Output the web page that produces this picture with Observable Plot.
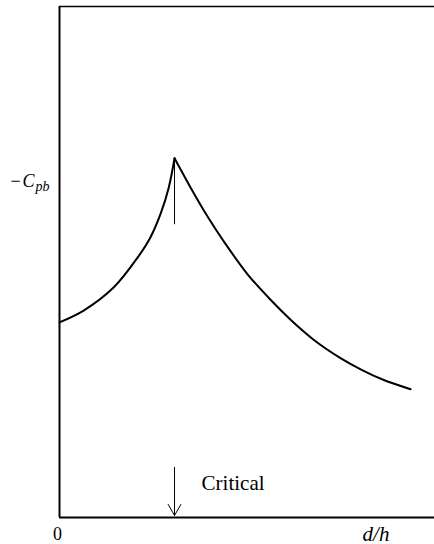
<!DOCTYPE html>
<html>
<head>
<meta charset="utf-8">
<script src="https://cdn.jsdelivr.net/npm/d3@7"></script>
<script src="https://cdn.jsdelivr.net/npm/@observablehq/plot@0.6"></script>
<style>
  html, body { margin: 0; padding: 0; background: #fff; }
  #chart svg { display: block; }
</style>
</head>
<body>
<div id="chart"></div>
<script>
// Base pressure coefficient -Cpb against d/h (arbitrary units; critical d/h = 1)
const riseX = [0, 0.21, 0.47, 0.68, 0.79, 0.88, 0.95, 1.0];
const riseY = [0.382, 0.405, 0.450, 0.509, 0.548, 0.595, 0.646, 0.703];
const fallX = [1.0, 1.139, 1.287, 1.426, 1.635, 1.835, 2.009, 2.209, 2.443, 2.635, 2.809, 3.052];
const fallY = [0.703, 0.646, 0.589, 0.541, 0.476, 0.426, 0.387, 0.348, 0.312, 0.288, 0.270, 0.251];
const criticalX = 1.0;

const rise = riseX.map((x, i) => ({x, y: riseY[i]}));
const fall = fallX.map((x, i) => ({x, y: fallY[i]}));

const serif = "Liberation Serif, Times New Roman, serif";

const chart = Plot.plot({
  width: 434,
  height: 544,
  marginLeft: 59,
  marginRight: 0,
  marginTop: 6,
  marginBottom: 27,
  style: {background: "#fff", fontFamily: serif, color: "#000"},
  x: {domain: [0, 3.26], axis: null},
  y: {domain: [0, 1], axis: null},
  marks: [
    // frame: left, bottom and top lines
    Plot.ruleX([0], {stroke: "#000", strokeWidth: 2}),
    Plot.ruleY([0], {stroke: "#000", strokeWidth: 2}),
    Plot.ruleY([1], {stroke: "#000", strokeWidth: 1.5}),
    // the curve, in two smooth branches meeting at the sharp peak
    Plot.line(rise, {x: "x", y: "y", curve: "catmull-rom", stroke: "#000", strokeWidth: 2}),
    Plot.line(fall, {x: "x", y: "y", curve: "catmull-rom", stroke: "#000", strokeWidth: 2}),
    // thin drop line under the peak
    Plot.ruleX([criticalX], {y1: 0.573, y2: riseY[riseY.length - 1], stroke: "#000", strokeWidth: 1}),
    // arrow marking the critical value
    Plot.arrow([criticalX], {x1: d => d, x2: d => d, y1: 0.098, y2: 0.004,
      stroke: "#000", strokeWidth: 1, headLength: 19, headAngle: 60}),
    Plot.text(["Critical"], {x: 1.235, y: 0.0665, text: d => d, textAnchor: "start",
      lineAnchor: "middle", fontSize: 21, fontFamily: serif, fill: "#000"}),
    // axis labels
    Plot.text(["0"], {x: 0, frameAnchor: "bottom", dx: -2, dy: 22, lineAnchor: "bottom",
      text: d => d, fontSize: 18, fontFamily: serif, fill: "#000"}),
    Plot.text(["d/h"], {x: 2.635, frameAnchor: "bottom", dy: 23, lineAnchor: "bottom",
      textAnchor: "start", text: d => d, fontSize: 21, fontStyle: "italic",
      fontFamily: serif, fill: "#000"}),
    Plot.text(["\u2212"], {frameAnchor: "left", dx: -49, y: 0.646, lineAnchor: "bottom",
      textAnchor: "start", text: d => d, fontSize: 18, fontFamily: serif, fill: "#000"}),
    Plot.text(["C"], {frameAnchor: "left", dx: -37, y: 0.646, lineAnchor: "bottom",
      textAnchor: "start", text: d => d, fontSize: 18, fontStyle: "italic",
      fontFamily: serif, fill: "#000"}),
    Plot.text(["pb"], {frameAnchor: "left", dx: -24, y: 0.638, lineAnchor: "bottom",
      textAnchor: "start", text: d => d, fontSize: 14, fontStyle: "italic",
      fontFamily: serif, fill: "#000"})
  ]
});

document.getElementById("chart").appendChild(chart);
</script>
</body>
</html>
